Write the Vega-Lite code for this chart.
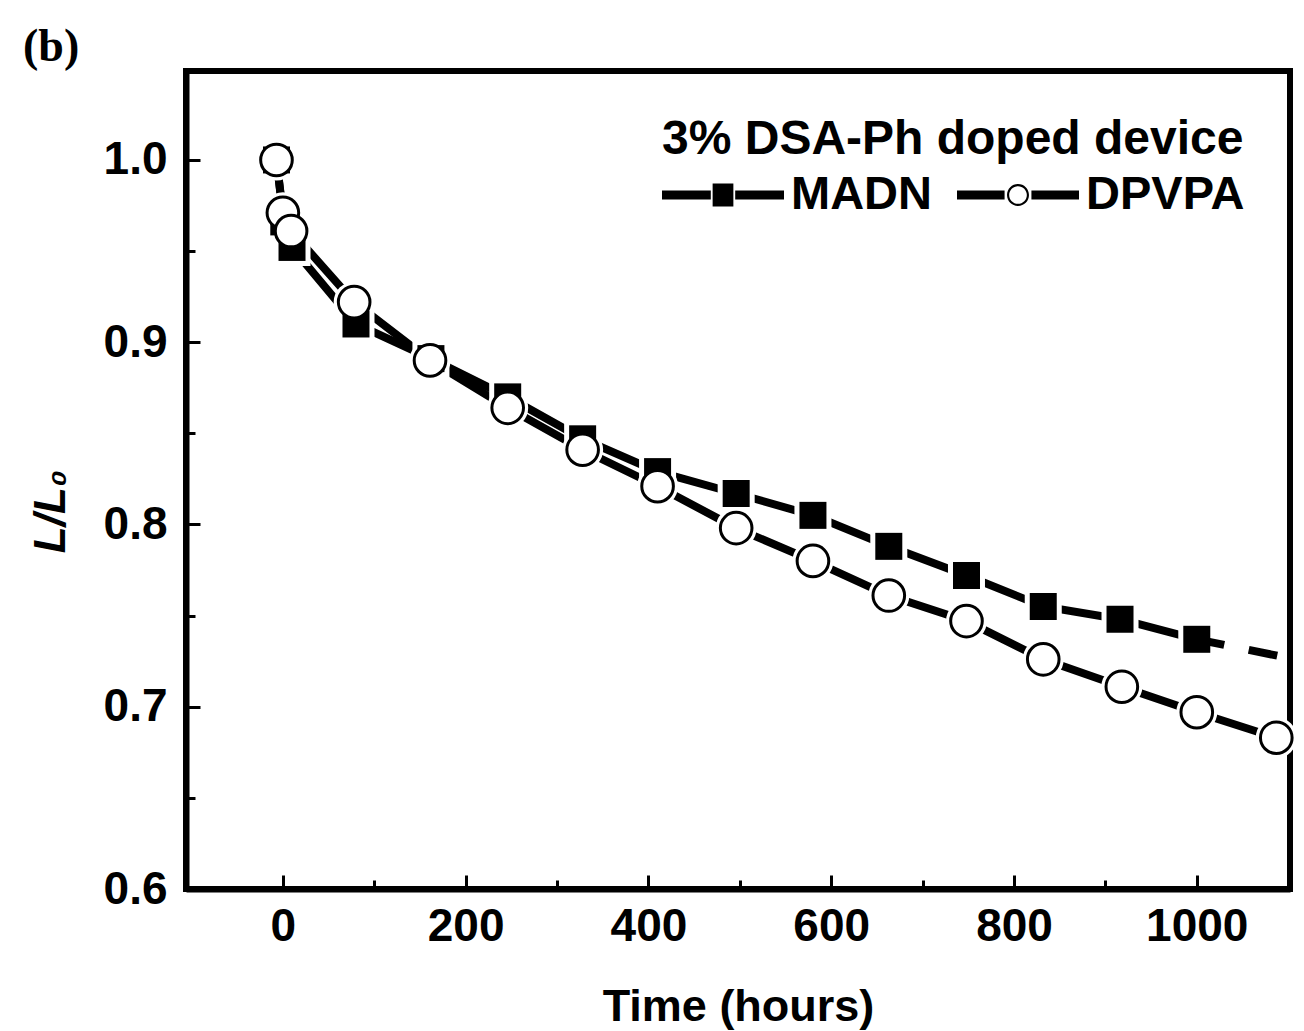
{
  "$schema": "https://vega.github.io/schema/vega-lite/v6.json",
  "width": 1104,
  "height": 818,
  "autosize": {"type": "none"},
  "padding": {"left": 186, "top": 71, "right": 14, "bottom": 142},
  "background": "white",
  "config": {
    "view": {"stroke": "black", "strokeWidth": 6},
    "font": "Liberation Sans"
  },
  "title": {
    "text": "(b)",
    "anchor": "start",
    "frame": "group",
    "font": "Liberation Serif",
    "fontSize": 46,
    "fontWeight": "bold",
    "color": "black",
    "dx": -163,
    "offset": 0
  },
  "datasets": {
    "pts": [
      {"series": "MADN", "t": -7, "v": 1.0},
      {"series": "MADN", "t": 1, "v": 0.966},
      {"series": "MADN", "t": 10, "v": 0.952},
      {"series": "MADN", "t": 80, "v": 0.91},
      {"series": "MADN", "t": 162, "v": 0.891},
      {"series": "MADN", "t": 246, "v": 0.87},
      {"series": "MADN", "t": 328, "v": 0.847},
      {"series": "MADN", "t": 410, "v": 0.829},
      {"series": "MADN", "t": 496, "v": 0.817},
      {"series": "MADN", "t": 580, "v": 0.805},
      {"series": "MADN", "t": 663, "v": 0.788},
      {"series": "MADN", "t": 748, "v": 0.772},
      {"series": "MADN", "t": 832, "v": 0.755},
      {"series": "MADN", "t": 916, "v": 0.748},
      {"series": "MADN", "t": 1000, "v": 0.737},
      {"series": "DPVPA", "t": -7, "v": 1.0},
      {"series": "DPVPA", "t": 0, "v": 0.971},
      {"series": "DPVPA", "t": 9, "v": 0.961},
      {"series": "DPVPA", "t": 78, "v": 0.922},
      {"series": "DPVPA", "t": 161, "v": 0.89},
      {"series": "DPVPA", "t": 246, "v": 0.864},
      {"series": "DPVPA", "t": 328, "v": 0.841},
      {"series": "DPVPA", "t": 410, "v": 0.821},
      {"series": "DPVPA", "t": 496, "v": 0.798},
      {"series": "DPVPA", "t": 580, "v": 0.78},
      {"series": "DPVPA", "t": 663, "v": 0.761},
      {"series": "DPVPA", "t": 748, "v": 0.747},
      {"series": "DPVPA", "t": 832, "v": 0.726},
      {"series": "DPVPA", "t": 918, "v": 0.711},
      {"series": "DPVPA", "t": 1000, "v": 0.697},
      {"series": "DPVPA", "t": 1087, "v": 0.683}
    ],
    "tail": [
      {"series": "MADN", "t": 1000, "v": 0.737},
      {"series": "MADN", "t": 1088, "v": 0.728}
    ]
  },
  "encoding": {
    "x": {
      "field": "t",
      "type": "quantitative",
      "scale": {"domain": [-106, 1102], "nice": false, "zero": false},
      "axis": {
        "title": "Time (hours)",
        "titleFont": "Liberation Sans",
        "titleFontSize": 45,
        "titleFontWeight": "bold",
        "titleColor": "black",
        "titlePadding": 35,
        "values": [0, 100, 200, 300, 400, 500, 600, 700, 800, 900, 1000],
        "format": "d",
        "labelExpr": "datum.value % 200 === 0 ? datum.label : ''",
        "labelFont": "Liberation Sans",
        "labelFontSize": 46,
        "labelFontWeight": "bold",
        "labelColor": "black",
        "labelPadding": 29,
        "grid": false,
        "domainColor": "black",
        "domainWidth": 6,
        "tickColor": "black",
        "tickWidth": 3,
        "tickSize": {"condition": {"test": "datum.value % 200 === 0", "value": -14}, "value": -9}
      }
    },
    "y": {
      "field": "v",
      "type": "quantitative",
      "scale": {"domain": [0.6, 1.0488], "nice": false, "zero": false},
      "axis": {
        "title": "L/L₀",
        "titleFont": "Liberation Sans",
        "titleFontSize": 44,
        "titleFontWeight": "bold",
        "titleFontStyle": "italic",
        "titleColor": "black",
        "titlePadding": 30,
        "titleY": 440,
        "values": [0.6, 0.65, 0.7, 0.75, 0.8, 0.85, 0.9, 0.95, 1.0],
        "format": ".1f",
        "labelExpr": "abs(datum.value * 10 - round(datum.value * 10)) < 0.01 ? datum.label : ''",
        "labelFont": "Liberation Sans",
        "labelFontSize": 46,
        "labelFontWeight": "bold",
        "labelColor": "black",
        "labelPadding": 33,
        "grid": false,
        "domainColor": "black",
        "domainWidth": 6,
        "tickColor": "black",
        "tickWidth": 3,
        "tickSize": {"condition": {"test": "abs(datum.value * 10 - round(datum.value * 10)) < 0.01", "value": -14}, "value": -9}
      }
    }
  },
  "layer": [
    {
      "data": {"name": "pts"},
      "mark": {"type": "line", "color": "black", "strokeWidth": 8},
      "encoding": {"detail": {"field": "series", "type": "nominal"}}
    },
    {
      "data": {"name": "pts"},
      "transform": [{"filter": "datum.series === 'MADN'"}],
      "mark": {"type": "point", "shape": "square", "size": 1369, "filled": true, "color": "white", "opacity": 1},
      "encoding": {}
    },
    {
      "data": {"name": "pts"},
      "transform": [{"filter": "datum.series === 'DPVPA'"}],
      "mark": {"type": "point", "shape": "circle", "size": 1681, "filled": true, "color": "white", "opacity": 1},
      "encoding": {}
    },
    {
      "data": {"name": "tail"},
      "mark": {"type": "line", "color": "black", "strokeWidth": 8, "strokeDash": [28, 25, 30, 100]},
      "encoding": {}
    },
    {
      "data": {"name": "pts"},
      "transform": [{"filter": "datum.series === 'MADN'"}],
      "mark": {"type": "point", "shape": "square", "size": 729, "filled": true, "color": "black", "opacity": 1},
      "encoding": {}
    },
    {
      "data": {"name": "pts"},
      "transform": [{"filter": "datum.series === 'DPVPA'"}],
      "mark": {"type": "point", "shape": "circle", "size": 1000, "fill": "white", "stroke": "black", "strokeWidth": 3, "opacity": 1},
      "encoding": {}
    },
    {
      "data": {"name": "pts"},
      "mark": {"type": "point", "filled": true, "color": "black", "strokeWidth": 0, "opacity": 0},
      "encoding": {
        "shape": {
          "field": "series",
          "type": "nominal",
          "scale": {
            "domain": ["MADN", "DPVPA"],
            "range": [
              "M-1,-0.075H-0.2V0.075H-1Z M-0.17,-0.19H0.17V0.19H-0.17Z M0.2,-0.075H1V0.075H0.2Z",
              "M-1,-0.075H-0.22V0.075H-1Z M0.22,-0.075H1V0.075H0.22Z M-0.18,0A0.18,0.18 0 1,1 0.18,0A0.18,0.18 0 1,1 -0.18,0Z M-0.145,0A0.145,0.145 0 1,0 0.145,0A0.145,0.145 0 1,0 -0.145,0Z"
            ]
          },
          "legend": {
            "title": "3% DSA-Ph doped device",
            "orient": "top-right",
            "direction": "horizontal",
            "offset": 45,
            "padding": 0,
            "titleFont": "Liberation Sans",
            "titleFontSize": 48,
            "titleFontWeight": "bold",
            "titleColor": "black",
            "titlePadding": -30,
            "titleLimit": 0,
            "labelFont": "Liberation Sans",
            "labelFontSize": 47,
            "labelFontWeight": "bold",
            "labelColor": "black",
            "labelLimit": 0,
            "labelOffset": 7,
            "columnPadding": 25,
            "symbolSize": 14884,
            "symbolStrokeWidth": 0,
            "symbolFillColor": "black",
            "symbolOpacity": 1,
            "encode": {
              "symbols": {
                "opacity": {"value": 1},
                "fill": {"value": "black"},
                "strokeWidth": {"value": 0}
              }
            }
          }
        }
      }
    }
  ]
}
